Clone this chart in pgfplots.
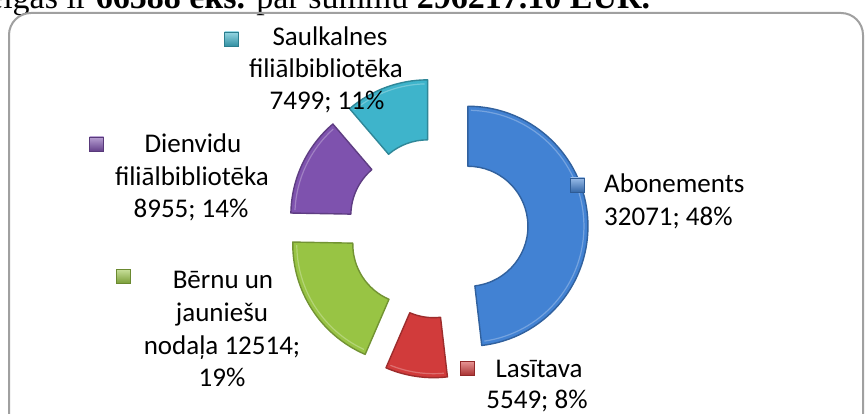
\documentclass[border=0pt]{standalone}
\usepackage{pgfplots}
\pgfplotsset{compat=1.18}
\usepackage{fontspec}
\setmainfont{Carlito}
\newfontfamily\serifhead{Liberation Serif}
\definecolor{cBlue}{HTML}{4282D3}
\definecolor{cRed}{HTML}{D13B3B}
\definecolor{cGreen}{HTML}{98C444}
\definecolor{cPurple}{HTML}{7E52AE}
\definecolor{cCyan}{HTML}{3EB4CB}
\definecolor{frameGray}{HTML}{A0A0A0}
\newcommand\lblfont{\fontsize{27bp}{33bp}\selectfont}
\newcommand\lbl[3]{\node[anchor=base, font=\lblfont, inner sep=0pt] at (axis cs:#1,#2) {#3};}
\newcommand\lbll[3]{\node[anchor=base west, font=\lblfont, inner sep=0pt] at (axis cs:#1,#2) {#3};}
\newcommand\key[3]{\shade[top color=#3!55!white, bottom color=#3!80!black, draw=#3!70!black, line width=0.6bp] (axis cs:#1-7,#2-7) rectangle (axis cs:#1+7,#2+7);}
\begin{document}
\begin{tikzpicture}
\clip (0,0) rectangle (865bp,414bp);
\fill[white] (0,0) rectangle (865bp,414bp);
% heading line, cut off at the top of the picture (as in the reference)
\node[anchor=base west, inner sep=0pt, font=\serifhead\fontsize{34bp}{40bp}\selectfont] at (-12bp,405bp)
  {ēigas ir \textbf{66588 eks.} par summu \textbf{296217.10 EUR.}};
% frame
\draw[frameGray, line width=2bp, rounded corners=22bp] (9bp,-40bp) -- (9bp,401bp) -- (863bp,401bp) -- (863bp,-40bp);
\begin{axis}[hide axis, x=1bp, y=1bp, xmin=0, xmax=865, ymin=0, ymax=414,
  anchor=origin, at={(0,0)}, clip=false]
\xdef\cum{0}
\foreach \v/\c in {32071/cBlue, 5549/cRed, 12514/cGreen, 8955/cPurple, 7499/cCyan}{%
  \pgfkeys{/pgf/fpu=true,/pgf/fpu/output format=fixed}%
  \pgfmathsetmacro\aone{90-\cum/66588*360}%
  \pgfmathsetmacro\atwo{90-(\cum+\v)/66588*360}%
  \pgfmathsetmacro\amid{(\aone+\atwo)/2}%
  \pgfmathsetmacro\dx{438+30*cos(\amid)}%
  \pgfmathsetmacro\dy{186+30*sin(\amid)}%
  \pgfmathsetmacro\aonei{\aone-1.5}%
  \pgfmathsetmacro\atwoi{\atwo+1.5}%
  \pgfmathsetmacro\aback{\atwo+180}%
  \pgfmathsetmacro\newcum{\cum+\v}%
  \pgfkeys{/pgf/fpu=false}%
  \edef\tmp{\noexpand\fill[\c, draw=\c!75!black, line width=1.4bp, line join=round]
    (axis cs:\dx,\dy) ++(\aone:60bp) -- ++(\aone:60bp)
    arc[start angle=\aone, end angle=\atwo, radius=120bp]
    -- ++(\aback:60bp)
    arc[start angle=\atwo, end angle=\aone, radius=60bp] -- cycle;}%
  \tmp
  \edef\tmpb{\noexpand\draw[\c!55!white, line width=1.2bp, opacity=0.6]
    (axis cs:\dx,\dy) ++(\aonei:116bp) arc[start angle=\aonei, end angle=\atwoi, radius=116bp];}%
  \tmpb
  \xdef\cum{\newcum}%
}
% data labels
\key{231.5}{375}{cCyan}
\lbl{330}{369}{Saulkalnes}
\lbl{326}{337}{filiālbibliotēka}
\lbl{327}{305}{7499; 11\%}
\key{96.5}{270}{cPurple}
\lbl{193}{262}{Dienvidu}
\lbl{192}{229}{filiālbibliotēka}
\lbl{191}{197}{8955; 14\%}
\key{577.5}{229}{cBlue}
\lbll{604}{222}{Abonements}
\lbll{604}{189}{32071; 48\%}
\key{123.5}{137.5}{cGreen}
\lbl{223}{126}{Bērnu un}
\lbl{222}{93}{jauniešu}
\lbl{222}{60}{nodaļa 12514;}
\lbl{222}{28}{19\%}
\key{467.5}{45.5}{cRed}
\lbl{539}{37}{Lasītava}
\lbl{537}{6}{5549; 8\%}
\end{axis}
\end{tikzpicture}
\end{document}
